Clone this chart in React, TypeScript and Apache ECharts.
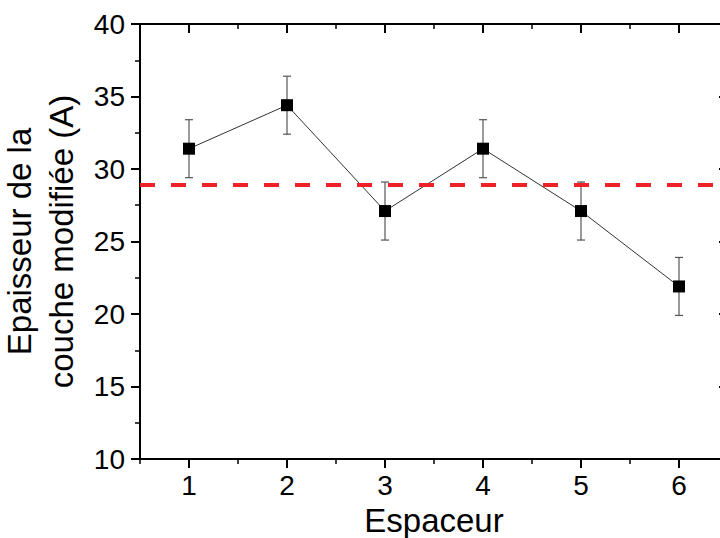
import React, { useEffect, useRef } from "react";
import * as echarts from "echarts";

const categories = ["1", "2", "3", "4", "5", "6"];
const thickness = [31.4, 34.4, 27.1, 31.4, 27.1, 21.9];
const errors = [2, 2, 2, 2, 2, 2];
const meanThickness = 28.9;
const yTicks = { min: 10, max: 40, interval: 5 };

const FONT = "'Liberation Sans', Arial, sans-serif";

export default function App() {
  const ref = useRef<HTMLDivElement>(null);
  useEffect(() => {
    document.body.style.margin = "0";
    const chart = echarts.init(ref.current!, null, { renderer: "svg" });
    const errData = thickness.map((v, i) => [i, v - errors[i], v + errors[i]]);
    const catAxis = (extra: any) => ({
      type: "category",
      data: categories,
      boundaryGap: true,
      splitLine: { show: false },
      ...extra,
    });
    const valAxis = (extra: any) => ({
      type: "value",
      min: yTicks.min,
      max: yTicks.max,
      interval: yTicks.interval,
      splitLine: { show: false },
      minorSplitLine: { show: false },
      ...extra,
    });
    chart.setOption({
      animation: false,
      backgroundColor: "#ffffff",
      grid: { left: 140, top: 24, width: 588, height: 435, containLabel: false, outerBoundsMode: "none" },
      xAxis: [
        catAxis({
          position: "bottom",
          axisLine: { show: true, lineStyle: { color: "#000", width: 2 } },
          axisTick: { show: true, alignWithLabel: true, length: 9, lineStyle: { color: "#000", width: 2 } },
          axisLabel: { show: true, fontSize: 28, color: "#000", fontFamily: FONT, margin: 12 },
          name: "Espaceur",
          nameLocation: "middle",
          nameGap: 42,
          nameTextStyle: { fontSize: 33, color: "#000", fontFamily: FONT },
        }),
        catAxis({
          position: "bottom",
          axisLine: { show: false },
          axisTick: { show: true, alignWithLabel: false, interval: 0, length: 5, lineStyle: { color: "#000", width: 1.5 } },
          axisLabel: { show: false },
        }),
        catAxis({
          position: "top",
          axisLine: { show: true, lineStyle: { color: "#000", width: 2 } },
          axisTick: { show: true, inside: true, alignWithLabel: true, length: 9, lineStyle: { color: "#000", width: 2 } },
          axisLabel: { show: false },
        }),
        catAxis({
          position: "top",
          axisLine: { show: false },
          axisTick: { show: true, inside: true, alignWithLabel: false, interval: 0, length: 5, lineStyle: { color: "#000", width: 1.5 } },
          axisLabel: { show: false },
        }),
      ],
      yAxis: [
        valAxis({
          position: "left",
          axisLine: { show: true, lineStyle: { color: "#000", width: 2 } },
          axisTick: { show: true, length: 9, lineStyle: { color: "#000", width: 2 } },
          minorTick: { show: true, splitNumber: 2, length: 5, lineStyle: { color: "#000", width: 1.5 } },
          axisLabel: { show: true, fontSize: 28, color: "#000", fontFamily: FONT, margin: 15 },
          name: "Epaisseur de la\ncouche modifiée (A)",
          nameLocation: "middle",
          nameRotate: 90,
          nameGap: 52,
          nameTextStyle: { fontSize: 33, color: "#000", fontFamily: FONT, lineHeight: 42, align: "center" },
        }),
        valAxis({
          position: "right",
          axisLine: { show: true, lineStyle: { color: "#000", width: 2 } },
          axisTick: { show: true, inside: true, length: 9, lineStyle: { color: "#000", width: 2 } },
          minorTick: { show: true, splitNumber: 2, length: 5, lineStyle: { color: "#000", width: 1.5 } },
          axisLabel: { show: false },
        }),
      ],
      series: [
        {
          type: "custom",
          xAxisIndex: 0,
          yAxisIndex: 0,
          z: 1,
          data: errData,
          renderItem: (params: any, api: any) => {
            const x = api.value(0);
            const lo = api.coord([x, api.value(1)]);
            const hi = api.coord([x, api.value(2)]);
            const hw = 4;
            return {
              type: "group",
              children: [
                { type: "line", shape: { x1: hi[0], y1: hi[1], x2: lo[0], y2: lo[1] }, style: { stroke: "#9a9a9a", lineWidth: 2 } },
                { type: "line", shape: { x1: hi[0] - hw, y1: hi[1], x2: hi[0] + hw, y2: hi[1] }, style: { stroke: "#555", lineWidth: 1.2 } },
                { type: "line", shape: { x1: lo[0] - hw, y1: lo[1], x2: lo[0] + hw, y2: lo[1] }, style: { stroke: "#555", lineWidth: 1.2 } },
              ],
            };
          },
        },
        {
          type: "line",
          xAxisIndex: 0,
          yAxisIndex: 0,
          z: 2,
          data: thickness,
          symbol: "rect",
          symbolSize: 12,
          itemStyle: { color: "#000" },
          lineStyle: { color: "#333", width: 1 },
          markLine: {
            silent: true,
            symbol: ["none", "none"],
            label: { show: false },
            z: 5,
            lineStyle: { color: "#ee2226", width: 4, type: [15, 16], cap: "butt" },
            data: [{ yAxis: meanThickness }],
          },
        },
      ],
    });
    return () => chart.dispose();
  }, []);
  return <div ref={ref} style={{ position: "fixed", left: 0, top: 0, width: 720, height: 538 }} />;
}
